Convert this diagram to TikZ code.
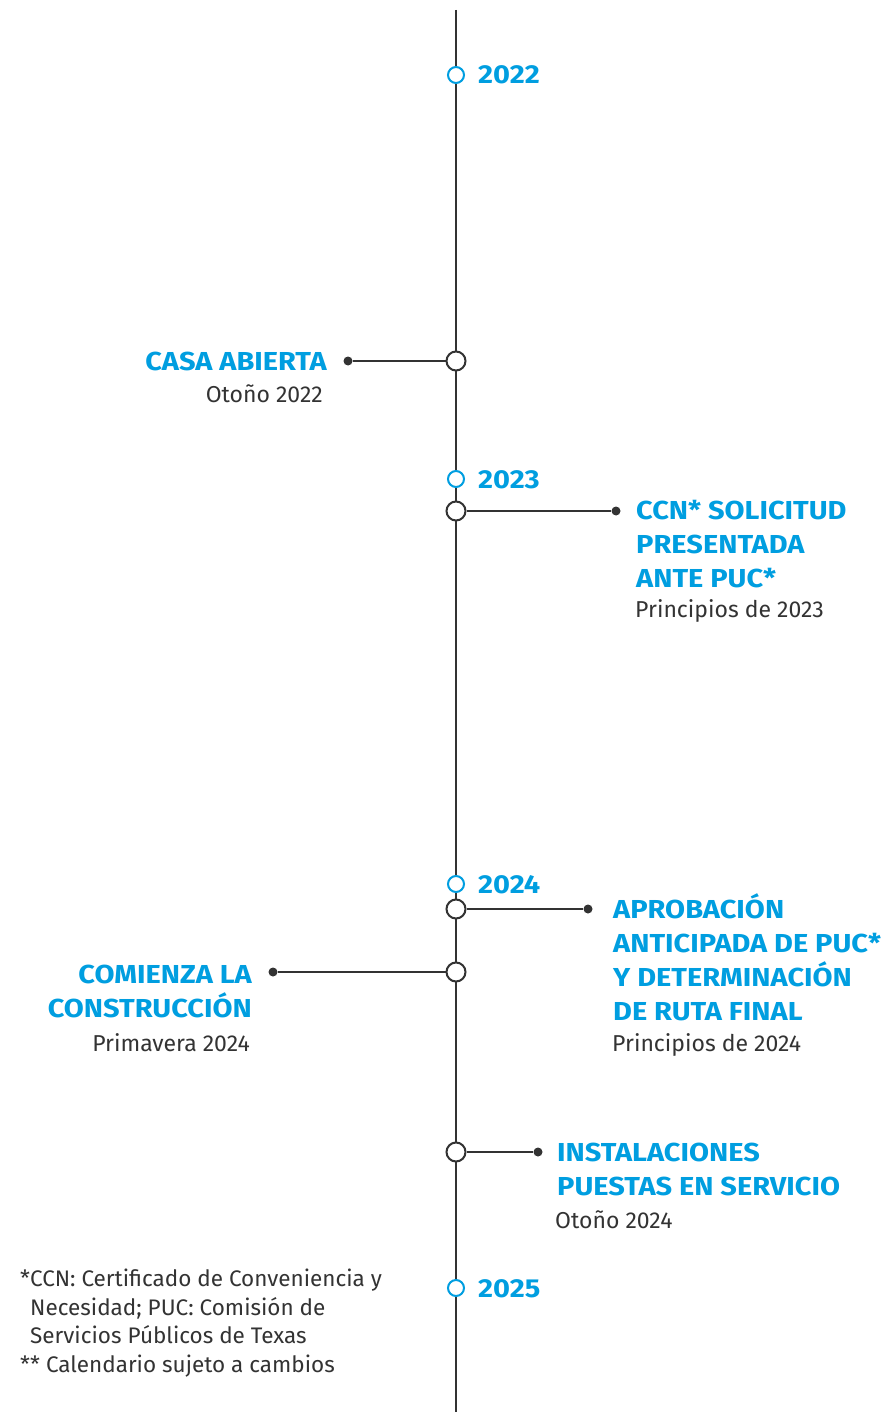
\documentclass[tikz,border=0pt]{standalone}
\usepackage{fontspec}
\setmainfont{Fira Sans}[BoldFeatures={FakeStretch=1.115}]
\definecolor{tblue}{RGB}{0,158,224}
\definecolor{tgray}{RGB}{51,51,51}
\begin{document}
\begin{tikzpicture}[x=1pt,y=-1pt,
  axis/.style={draw=tgray, line width=2pt},
  conn/.style={draw=tgray, line width=2pt},
  yearmark/.style={circle, draw=tblue, fill=white, line width=2pt, minimum size=16pt, inner sep=0pt},
  eventmark/.style={circle, draw=tgray, fill=white, line width=2pt, minimum size=19pt, inner sep=0pt},
  enddot/.style={circle, fill=tgray, minimum size=9pt, inner sep=0pt},
  yr/.style={font=\bfseries\fontsize{26}{30}\selectfont, text=tblue, inner sep=0pt},
  head/.style={font=\bfseries\fontsize{26}{34}\selectfont, text=tblue, inner sep=0pt},
  sub/.style={font=\fontsize{23}{28}\selectfont, text=tgray, inner sep=0pt},
  note/.style={font=\fontsize{22.5}{28.5}\selectfont, text=tgray, inner sep=0pt, align=left}]
\useasboundingbox (0,0) rectangle (889,1412);
\fill[white] (0,0) rectangle (889,1412);
\coordinate (top) at (456,10);
\coordinate (bot) at (456,1412);
\draw[axis] (top) -- (bot);

% year markers
\node[yearmark] (m22) at (456,75) {};
\node[yearmark] (m23) at (456,479) {};
\node[yearmark] (m24) at (456,884) {};
\node[yearmark] (m25) at (456,1288) {};
\node[yr, anchor=base west] (y22) at (478,84) {2022};
\node[yr, anchor=base west] (y23) at (478,488) {2023};
\node[yr, anchor=base west] (y24) at (478,893) {2024};
\node[yr, anchor=base west] (y25) at (478,1297) {2025};

% events
\node[eventmark] (e1) at (456,361) {};
\node[eventmark] (e2) at (456,511) {};
\node[eventmark] (e3) at (456,909) {};
\node[eventmark] (e4) at (456,972) {};
\node[eventmark] (e5) at (456,1152) {};

\node[enddot] (d1) at (348,361) {};
\node[enddot] (d2) at (616,511) {};
\node[enddot] (d3) at (588,909) {};
\node[enddot] (d4) at (273,972) {};
\node[enddot] (d5) at (538,1152) {};

\draw[conn] (e1) -- (d1);
\draw[conn] (e2) -- (d2);
\draw[conn] (e3) -- (d3);
\draw[conn] (e4) -- (d4);
\draw[conn] (e5) -- (d5);

% labels (base anchor of a multi-line node = baseline of its last line)
\node[head, anchor=base east] (h1) at (327,370) {CASA ABIERTA};
\node[sub, anchor=base east] (s1) at (323,402) {Otoño 2022};

\node[head, anchor=base west, align=left] (h2) at (636,587) {CCN* SOLICITUD\\PRESENTADA\\ANTE PUC*};
\node[sub, anchor=base west] (s2) at (635,617) {Principios de 2023};

\node[head, anchor=base west, align=left] (h3) at (613,1020) {APROBACIÓN\\ANTICIPADA DE PUC*\\Y DETERMINACIÓN\\DE RUTA FINAL};
\node[sub, anchor=base west] (s3) at (612,1051) {Principios de 2024};

\node[head, anchor=base east, align=right] (h4) at (252,1017) {COMIENZA LA\\CONSTRUCCIÓN};
\node[sub, anchor=base east] (s4) at (250,1051) {Primavera 2024};

\node[head, anchor=base west, align=left] (h5) at (557,1195) {INSTALACIONES\\PUESTAS EN SERVICIO};
\node[sub, anchor=base west] (s5) at (555,1228) {Otoño 2024};

\node[note, anchor=base west] (fn) at (20,1372) {*CCN: Certificado de Conveniencia y\\\hspace*{10pt}Necesidad; PUC: Comisión de\\\hspace*{10pt}Servicios Públicos de Texas\\** Calendario sujeto a cambios};
\end{tikzpicture}
\end{document}
